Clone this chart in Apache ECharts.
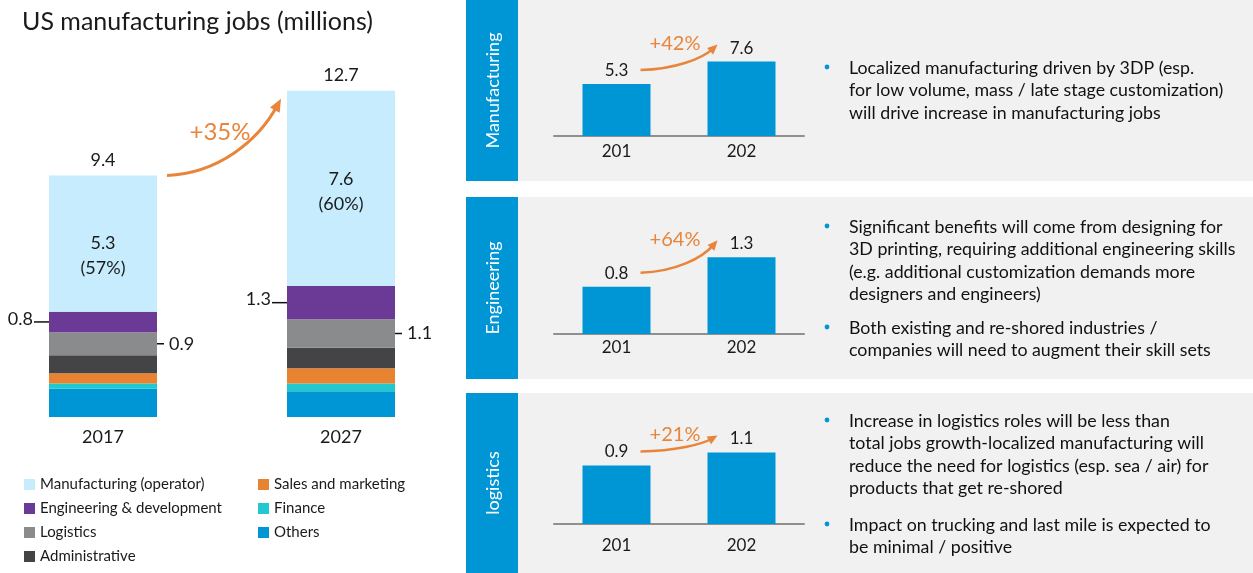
<!DOCTYPE html>
<html>
<head>
<meta charset="utf-8">
<script src="https://cdn.jsdelivr.net/npm/echarts@6/dist/echarts.min.js"></script>
<style>
html,body{margin:0;padding:0;background:#fff;}
#c{width:1253px;height:573px;}
</style>
</head>
<body>
<div id="c"></div>
<script>
// ---------- data ----------
const categories = ['2017', '2027'];
const others = [1.1, 1.0];
const finance = [0.2, 0.3];
const sales = [0.4, 0.6];
const admin = [0.7, 0.8];
const logistics = [0.9, 1.1];
const engineering = [0.8, 1.3];
const manufacturing = [5.3, 7.6];
const totals = [9.4, 12.7];
const mfgShare = ['57%', '60%'];
const totalGrowth = '+35%';

const miniCategories = ['201', '202'];
const miniMfg = [5.3, 7.6];
const miniEng = [0.8, 1.3];
const miniLog = [0.9, 1.1];
const miniGrowth = ['+42%', '+64%', '+21%'];
const panelTitles = ['Manufacturing', 'Engineering', 'logistics'];

// ---------- styles ----------
const FONT = 'Lato';
const TXT = '#1a1a1a';
const ORANGE = '#e8853a';
const BLUE = '#0096d6';
const colors = {
  'Manufacturing (operator)': '#c6ecfd',
  'Engineering & development': '#6b3a96',
  'Logistics': '#8a8b8c',
  'Administrative': '#444446',
  'Sales and marketing': '#e88332',
  'Finance': '#22c8d0',
  'Others': '#0096d6'
};
const stackOrder = [
  ['Others', others],
  ['Finance', finance],
  ['Sales and marketing', sales],
  ['Administrative', admin],
  ['Logistics', logistics],
  ['Engineering & development', engineering],
  ['Manufacturing (operator)', manufacturing]
];
const mfgLabelShift = [12, 3];

const chart = echarts.init(document.getElementById('c'));

const series = stackOrder.map(([name, data]) => {
  const s = {
    name, type: 'bar', stack: 'jobs', data, barWidth: 108, clip: false,
    xAxisIndex: 0, yAxisIndex: 0,
    itemStyle: { color: colors[name] }, silent: true
  };
  if (name === 'Manufacturing (operator)') {
    s.data = data.map((v, i) => ({ value: v, label: { offset: [0, mfgLabelShift[i]] } }));
    s.label = {
      show: true, position: 'inside', fontSize: 18, lineHeight: 25, color: TXT, fontFamily: FONT,
      formatter: p => p.value + '\n(' + mfgShare[p.dataIndex] + ')'
    };
  }
  if (name === 'Engineering & development') {
    s.label = { show: true, position: 'left', distance: 16, offset: [0, -3], fontSize: 18, color: TXT, fontFamily: FONT };
  }
  if (name === 'Logistics') {
    s.label = { show: true, position: 'right', distance: 12, fontSize: 18, color: TXT, fontFamily: FONT };
  }
  return s;
});
series.push({
  name: 'total', type: 'line', data: totals, symbol: 'circle', symbolSize: 1, showSymbol: true, clip: false, silent: true,
  xAxisIndex: 0, yAxisIndex: 0,
  itemStyle: { color: 'rgba(0,0,0,0)' },
  lineStyle: { opacity: 0 },
  label: { show: true, position: 'top', distance: 6, fontSize: 18, color: TXT, fontFamily: FONT }
});

const miniData = [miniMfg, miniEng, miniLog];
const miniMax = [10, 1.4, 1.2];
const miniGrids = [
  { left: 554, width: 250, top: 38, height: 98 },
  { left: 554, width: 250, top: 251.4, height: 82.6 },
  { left: 554, width: 250, top: 446, height: 78 }
];
const miniMargin = [7, 5, 13];

const grids = [{ left: 103, right: 912, top: 83, bottom: 156 }].concat(miniGrids);
const xAxes = [{
  gridIndex: 0, type: 'category', data: categories, boundaryGap: false,
  axisLine: { show: false }, axisTick: { show: false },
  axisLabel: { fontSize: 18, color: TXT, margin: 11, fontFamily: FONT }
}];
const yAxes = [{ gridIndex: 0, type: 'value', min: 0, max: 13, show: false }];
miniData.forEach((d, k) => {
  xAxes.push({
    gridIndex: k + 1, type: 'category', data: miniCategories,
    axisLine: { lineStyle: { color: '#8f8f8f', width: 2 } }, axisTick: { show: false },
    axisLabel: { fontSize: 17, color: TXT, margin: miniMargin[k], fontFamily: FONT }
  });
  yAxes.push({ gridIndex: k + 1, type: 'value', min: 0, max: miniMax[k], show: false });
  series.push({
    name: panelTitles[k], type: 'bar', data: d, barWidth: 68,
    xAxisIndex: k + 1, yAxisIndex: k + 1, silent: true,
    itemStyle: { color: BLUE },
    label: { show: true, position: 'top', distance: 5, fontSize: 17, color: TXT, fontFamily: FONT }
  });
});

// static decorations
const panels = [[0, 181], [197, 379], [393, 573]];
const staticGraphic = [];
panels.forEach(([y0, y1], k) => {
  staticGraphic.push({ type: 'rect', z: -10, shape: { x: 518, y: y0, width: 735, height: y1 - y0 }, style: { fill: '#f1f1f1' } });
  staticGraphic.push({ type: 'rect', z: -10, shape: { x: 466, y: y0, width: 52, height: y1 - y0 }, style: { fill: BLUE } });
  staticGraphic.push({
    type: 'text', z: 10, x: 493, y: (y0 + y1) / 2, rotation: Math.PI / 2,
    style: { text: panelTitles[k], fill: '#ffffff', fontSize: 18, fontFamily: FONT, align: 'center', verticalAlign: 'middle' }
  });
});
const bullets = [
  [68, ['Localized manufacturing driven by 3DP (esp.', 'for low volume, mass / late stage customization)', 'will drive increase in manufacturing jobs']],
  [227, ['Significant benefits will come from designing for', '3D printing, requiring additional engineering skills', '(e.g. additional customization demands more', 'designers and engineers)']],
  [328, ['Both existing and re-shored industries /', 'companies will need to augment their skill sets']],
  [421, ['Increase in logistics roles will be less than', 'total jobs growth-localized manufacturing will', 'reduce the need for logistics (esp. sea / air) for', 'products that get re-shored']],
  [525, ['Impact on trucking and last mile is expected to', 'be minimal / positive']]
];
const LH = 22.4;
bullets.forEach(([yc, lines]) => {
  staticGraphic.push({ type: 'circle', z: 10, shape: { cx: 827, cy: yc - 1, r: 2.4 }, style: { fill: BLUE } });
  staticGraphic.push({
    type: 'text', z: 10, x: 849, y: yc - LH / 2,
    style: { text: lines.join('\n'), fill: '#111', fontSize: 17.8, fontFamily: FONT, lineHeight: LH, align: 'left', verticalAlign: 'top' }
  });
});

const option = {
  animation: false,
  textStyle: { fontFamily: FONT },
  title: { text: 'US manufacturing jobs (millions)', left: 17, top: 4, textStyle: { fontSize: 25, fontWeight: 'normal', color: TXT, fontFamily: FONT } },
  legend: [
    { left: 24, top: 477, orient: 'vertical', padding: 0, itemWidth: 11, itemHeight: 11, itemGap: 9, icon: 'rect', selectedMode: false,
      data: ['Manufacturing (operator)', 'Engineering & development', 'Logistics', 'Administrative'],
      textStyle: { fontSize: 15, color: TXT, fontFamily: FONT } },
    { left: 258, top: 477, orient: 'vertical', padding: 0, itemWidth: 11, itemHeight: 11, itemGap: 9, icon: 'rect', selectedMode: false,
      data: ['Sales and marketing', 'Finance', 'Others'],
      textStyle: { fontSize: 15, color: TXT, fontFamily: FONT } }
  ],
  grid: grids,
  xAxis: xAxes,
  yAxis: yAxes,
  series,
  graphic: { elements: staticGraphic }
};
chart.setOption(option);

// ---------- data-driven annotations (arrows, leader lines) ----------
function arrow(p0, p3, lw, headL, headW) {
  const dx = p3[0] - p0[0], dy = p3[1] - p0[1];
  const c1 = [p0[0] + 0.45 * dx, p0[1] + 0.03 * dy];
  const c2 = [p0[0] + 0.8 * dx, p0[1] + 0.45 * dy];
  let tx = p3[0] - c2[0], ty = p3[1] - c2[1];
  const len = Math.hypot(tx, ty); tx /= len; ty /= len;
  const base = [p3[0] - tx * headL, p3[1] - ty * headL];
  const end = [p3[0] - tx * headL * 0.6, p3[1] - ty * headL * 0.6];
  const nx = -ty, ny = tx;
  return [
    { type: 'bezierCurve', z: 10, shape: { x1: p0[0], y1: p0[1], cpx1: c1[0], cpy1: c1[1], cpx2: c2[0], cpy2: c2[1], x2: end[0], y2: end[1] },
      style: { stroke: ORANGE, lineWidth: lw, fill: null } },
    { type: 'polygon', z: 10, shape: { points: [p3, [base[0] + nx * headW / 2, base[1] + ny * headW / 2], [base[0] - nx * headW / 2, base[1] - ny * headW / 2]] },
      style: { fill: ORANGE } }
  ];
}
const dyn = [];
{
  const a = chart.convertToPixel({ gridIndex: 0 }, [0, totals[0]]);
  const b = chart.convertToPixel({ gridIndex: 0 }, [1, totals[1]]);
  const p0 = [a[0] + 54 + 10, a[1]];
  const p3 = [b[0] - 54 - 6, b[1] + 8];
  dyn.push(...arrow(p0, p3, 3, 13, 11));
  dyn.push({ type: 'text', z: 10, x: 220, y: (p0[1] + p3[1]) / 2 - 5,
    style: { text: totalGrowth, fill: ORANGE, fontSize: 24, fontFamily: FONT, align: 'center', verticalAlign: 'middle' } });
}
for (let i = 0; i < categories.length; i++) {
  const belowEng = others[i] + finance[i] + sales[i] + admin[i] + logistics[i];
  const belowLog = others[i] + finance[i] + sales[i] + admin[i];
  const pe = chart.convertToPixel({ gridIndex: 0 }, [i, belowEng + engineering[i] / 2]);
  const pl = chart.convertToPixel({ gridIndex: 0 }, [i, belowLog + logistics[i] / 2]);
  dyn.push({ type: 'line', z: 10, shape: { x1: pe[0] - 54 - 15, y1: pe[1], x2: pe[0] - 54, y2: pe[1] }, style: { stroke: '#111', lineWidth: 1.5 } });
  dyn.push({ type: 'line', z: 10, shape: { x1: pl[0] + 54, y1: pl[1], x2: pl[0] + 54 + 7, y2: pl[1] }, style: { stroke: '#111', lineWidth: 1.5 } });
}
miniData.forEach((d, k) => {
  const a = chart.convertToPixel({ gridIndex: k + 1 }, [0, d[0]]);
  const b = chart.convertToPixel({ gridIndex: k + 1 }, [1, d[1]]);
  const p0 = [a[0] + 24, a[1] - 14];
  const p3 = [b[0] - 24, b[1] - 17];
  dyn.push(...arrow(p0, p3, 2.5, 10, 9));
  dyn.push({ type: 'text', z: 10, x: (p0[0] + p3[0]) / 2 - 4, y: p3[1] - 1,
    style: { text: miniGrowth[k], fill: ORANGE, fontSize: 20, fontFamily: FONT, align: 'center', verticalAlign: 'middle' } });
});
chart.setOption({ graphic: { elements: staticGraphic.concat(dyn) } });
</script>
</body>
</html>
